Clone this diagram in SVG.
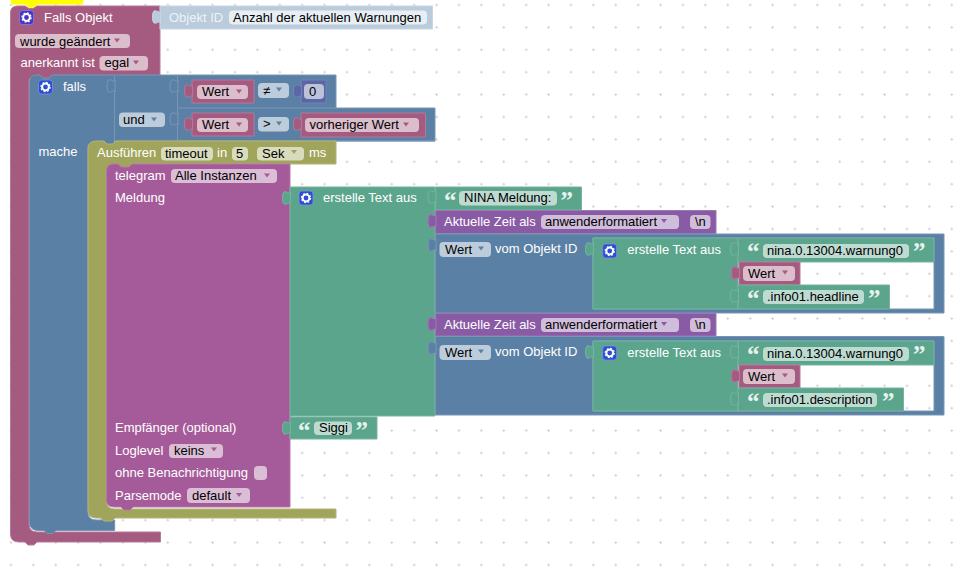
<svg xmlns="http://www.w3.org/2000/svg" width="964" height="584" viewBox="0 0 964 584">
<style>
text{font-family:"Liberation Sans",Arial,sans-serif;font-size:13px;fill:#fff}
text.d{fill:#000}
text.q{font-family:"Liberation Serif",serif;font-size:25px;font-weight:bold;fill:#e6f2ee}
.pk{fill:#a55b80;stroke:#b5779a;stroke-width:1}
.bl{fill:#5b80a5;stroke:#7896b4;stroke-width:1}
.ol{fill:#a0a55b;stroke:#b0b476;stroke-width:1}
.tg{fill:#a55b99;stroke:#b577aa;stroke-width:1}
.gr{fill:#5ba58c;stroke:#76b49f;stroke-width:1}
.pu{fill:#8a5ba5;stroke:#9d77b4;stroke-width:1}
.ix{fill:#5b67a5;stroke:#7682b4;stroke-width:1}
.ob{fill:#bacbdb;stroke:#c8d6e3;stroke-width:1}
.fp{fill:#dbbdcc}.fb{fill:#bdccdb}.fo{fill:#d9dbbd}.ft{fill:#dbbdd6}.fg{fill:#bddbd1}.fu{fill:#d0bddb}.fi{fill:#bdc2db}.fx{fill:#e7eef4}
.ap{fill:#a55b80}.ab{fill:#5b80a5}.ao{fill:#a0a55b}.at{fill:#a55b99}.au{fill:#8a5ba5}
</style>
<defs>
<pattern id="grid" patternUnits="userSpaceOnUse" x="9.500" y="3.500" width="22.4" height="22.4"><path d="M0,1.500H3M1.500,0V3" stroke="#d6d6d6" stroke-width="1" fill="none"/></pattern>
<path id="tab" d="M.500,0C.500,3 -3,-1 -6,0Q-7.500,1 -7.500,6Q-7.500,11 -6,12C-3,13 .500,9 .500,12z"/>
<path id="arr" d="M-3,-2H3L0,2z"/>
<g id="teeth"><circle cx="7" cy="7" r="3.400" fill="none" stroke="#fff" stroke-width="2"/><circle cx="7" cy="7" r="4.600" fill="none" stroke="#fff" stroke-width="1.200" stroke-dasharray="1.800 1.800"/></g>
<g id="gear"><rect width="14" height="14" rx="3" fill="#2a4fd0" stroke="#7d8fe0" stroke-width=".8"/><use href="#teeth"/></g>
<g id="gearh"><rect width="14" height="14" rx="3" fill="#4637c8" stroke="#8a80dc" stroke-width=".8"/><use href="#teeth"/></g>
</defs>
<rect width="964" height="584" fill="#fff"/>
<rect width="964" height="584" fill="url(#grid)"/>
<g id="connectors"></g>

<g id="selection"><path d="M11,0H83V4.500H38l-6,3.500h-2l-5,-3.500H11z" fill="#ffff00"/></g>

<g id="falls-objekt">
<path class="pk" d="M10.500,13q0,-7 7,-7H25l4,2.500h4l4,-2.500H160V79H29V524q0,8 8,8H160.500V542H37l-3,3h-6l-3,-3H19Q10.500,542 10.500,534z"/>
<use href="#gearh" x="19.500" y="10.500"/>
<text x="44" y="22">Falls Objekt</text>
<rect class="fp" x="15" y="34" width="115" height="14" rx="4"/><text class="d" x="20" y="45.500">wurde geändert</text><use href="#arr" class="ap" x="117" y="40.500"/>
<text x="20.500" y="67">anerkannt ist</text>
<rect class="fp" x="99.500" y="56" width="48.500" height="14.500" rx="4"/><text class="d" x="104.500" y="67">egal</text><use href="#arr" class="ap" x="136" y="62.500"/>
</g>

<g id="objekt-id">
<path class="ob" d="M160,6H432.500V29H160z"/><use href="#tab" class="ob" x="160" y="11"/>
<text x="169" y="22" style="fill:#eef3f7">Objekt ID</text>
<rect class="fx" x="229" y="10.500" width="198" height="14" rx="4"/><text class="d" x="233" y="22">Anzahl der aktuellen Warnungen</text>
</g>

<g id="falls">
<path class="bl" d="M29.500,82q0,-7 7,-7H40l3,3h6l3,-3H336V108H435V141H114V145H88V512q0,8 8,8H114.700V530.500H56l-3,3h-6l-3,-3H38Q29.500,530.500 29.500,522z"/>
<path d="M114.500,76V141M177.500,76V141M178,108H336M178,141H435" fill="none" stroke="#7896b4"/>
<use href="#tab" x="114.500" y="80" fill="#5b80a5" stroke="#7896b4"/>
<use href="#tab" x="177.500" y="80" fill="#5b80a5" stroke="#7896b4"/>
<use href="#tab" x="177.500" y="113" fill="#5b80a5" stroke="#7896b4"/>
<use href="#gear" x="38.500" y="80"/>
<text x="63" y="91">falls</text>
<text x="38.500" y="156">mache</text>
<rect class="fb" x="119" y="112.500" width="46" height="14.500" rx="4"/><text class="d" x="123" y="124">und</text><use href="#arr" class="ab" x="154" y="119.500"/>
<path class="pk" d="M192,80H254V103H192z"/><use href="#tab" class="pk" x="192" y="85"/>
<rect class="fp" x="197" y="85" width="51" height="14" rx="4"/><text class="d" x="202" y="96">Wert</text><use href="#arr" class="ap" x="239" y="91.500"/>
<rect class="fb" x="258" y="83" width="31" height="15" rx="4"/><text class="d" x="263" y="95">≠</text><use href="#arr" class="ab" x="279" y="89.500"/>
<path class="ix" d="M301,80H326V103H301z"/><use href="#tab" class="ix" x="301" y="85"/>
<rect class="fi" x="304" y="84" width="20" height="15" rx="4"/><text class="d" x="309" y="96">0</text>
<path class="pk" d="M192,113H254V136H192z"/><use href="#tab" class="pk" x="192" y="118"/>
<rect class="fp" x="197" y="118" width="51" height="14" rx="4"/><text class="d" x="202" y="129">Wert</text><use href="#arr" class="ap" x="239" y="124.500"/>
<rect class="fb" x="258" y="117" width="31" height="14.500" rx="4"/><text class="d" x="263" y="128">&gt;</text><use href="#arr" class="ab" x="279" y="123.500"/>
<path class="pk" d="M301,113H425.500V137H301z"/><use href="#tab" class="pk" x="301" y="118"/>
<rect class="fp" x="305" y="118" width="114" height="14" rx="4"/><text class="d" x="309.500" y="129">vorheriger Wert</text><use href="#arr" class="ap" x="406" y="124.500"/>
</g>

<g id="ausfuehren">
<path class="ol" d="M88,149q0,-8 8,-8H104l3,3h6l3,-3H336V164H132V168H106.500V501q0,8 8,8H336V518H115l-3,3h-8l-3,-3H96Q88,518 88,510z"/>
<text x="97" y="157">Ausführen</text>
<rect class="fo" x="161" y="147" width="52" height="13.500" rx="4"/><text class="d" x="165" y="157.500">timeout</text>
<text x="217" y="157">in</text>
<rect class="fo" x="232" y="147" width="16" height="13.500" rx="4"/><text class="d" x="236" y="157.500">5</text>
<rect class="fo" x="257" y="147" width="47" height="13.500" rx="4"/><text class="d" x="262" y="157.500">Sek</text><use href="#arr" class="ao" x="294" y="152"/>
<text x="309" y="157">ms</text>
</g>

<g id="telegram">
<path class="tg" d="M106.500,171q0,-7 7,-7H118l3,3h8l3,-3H290V507H133l-3,3h-6l-3,-3H114Q106.500,507 106.500,500z"/>
<text x="115" y="180">telegram</text>
<rect class="ft" x="171" y="169" width="106" height="14" rx="4"/><text class="d" x="175" y="180">Alle Instanzen</text><use href="#arr" class="at" x="267" y="175.500"/>
<text x="115" y="202">Meldung</text>
<text x="115" y="432">Empfänger (optional)</text>
<text x="115" y="455">Loglevel</text>
<rect class="ft" x="169" y="444" width="54" height="14" rx="4"/><text class="d" x="174" y="455">keins</text><use href="#arr" class="at" x="214" y="449.500"/>
<text x="115" y="477">ohne Benachrichtigung</text>
<rect class="ft" x="254" y="466" width="13" height="14" rx="4"/>
<text x="115" y="500">Parsemode</text>
<rect class="ft" x="187" y="488" width="63" height="15" rx="4"/><text class="d" x="192" y="500">default</text><use href="#arr" class="at" x="239" y="495"/>
</g>

<g id="text-main">
<path class="gr" d="M290,187H435V416H290z"/><use href="#tab" class="gr" x="290" y="192"/>
<use href="#gear" x="299" y="191"/>
<text x="323" y="202">erstelle Text aus</text>
</g>

<g id="text-nina">
<path class="gr" d="M435.500,187H581.500V210H435.500z"/><use href="#tab" class="gr" x="435.500" y="191"/>
<text class="q" x="444" y="209">“</text><text class="q" x="560.500" y="209">”</text>
<rect class="fg" x="459" y="191" width="98" height="14.500" rx="4"/><text class="d" x="464" y="202">NINA Meldung:</text>
</g>

<g id="zeit-1">
<path class="pu" d="M435.500,210.500H716V233.500H435.500z"/><use href="#tab" class="pu" x="435.500" y="215"/>
<text x="444" y="226">Aktuelle Zeit als</text>
<rect class="fu" x="541" y="215" width="138" height="14" rx="4"/><text class="d" x="545" y="226">anwenderformatiert</text><use href="#arr" class="au" x="664" y="221"/>
<rect class="fu" x="690" y="215" width="20.500" height="14" rx="4"/><text class="d" x="695" y="226">\n</text>
</g>

<g id="wert-1">
<path class="bl" fill-rule="evenodd" d="M435.500,234H944V313H435.500zM593,238V309H934V238z"/><use href="#tab" class="bl" x="435.500" y="239"/>
<rect class="fb" x="439.500" y="242" width="51.500" height="15" rx="4"/><text class="d" x="445" y="254">Wert</text><use href="#arr" class="ab" x="481" y="248.500"/>
<text x="495" y="253">vom Objekt ID</text>
<path class="gr" d="M593,238H738V309H593z"/><use href="#tab" class="gr" x="593" y="243"/>
<use href="#gear" x="602.700" y="244"/>
<text x="627.300" y="254">erstelle Text aus</text>
<path class="gr" d="M738,238H934V262H738z"/><use href="#tab" class="gr" x="738" y="243"/>
<text class="q" x="747" y="260">“</text><text class="q" x="913" y="260">”</text>
<rect class="fg" x="763" y="244" width="146" height="14" rx="4"/><text class="d" x="767" y="254.500">nina.0.13004.warnung0</text>
<path class="pk" d="M739,262H800V285H739z"/><use href="#tab" class="pk" x="739" y="267"/>
<rect class="fp" x="743" y="266" width="52" height="15" rx="4"/><text class="d" x="748" y="278">Wert</text><use href="#arr" class="ap" x="785" y="272.500"/>
<path class="gr" d="M738,285H889.500V309H738z"/><use href="#tab" class="gr" x="738" y="290"/>
<text class="q" x="747" y="307">“</text><text class="q" x="868" y="307">”</text>
<rect class="fg" x="763" y="290" width="101" height="14" rx="4"/><text class="d" x="767" y="301">.info01.headline</text>
</g>

<g id="zeit-2">
<path class="pu" d="M435.500,313.500H716V336H435.500z"/><use href="#tab" class="pu" x="435.500" y="318"/>
<text x="444" y="329">Aktuelle Zeit als</text>
<rect class="fu" x="541" y="318" width="138" height="14" rx="4"/><text class="d" x="545" y="329">anwenderformatiert</text><use href="#arr" class="au" x="664" y="324"/>
<rect class="fu" x="690" y="318" width="20.500" height="14" rx="4"/><text class="d" x="695" y="329">\n</text>
</g>

<g id="wert-2">
<path class="bl" fill-rule="evenodd" d="M435.500,336.500H944V415H435.500zM593,341V411H934V341z"/><use href="#tab" class="bl" x="435.500" y="342"/>
<rect class="fb" x="439.500" y="345" width="51.500" height="15" rx="4"/><text class="d" x="445" y="357">Wert</text><use href="#arr" class="ab" x="481" y="351.500"/>
<text x="495" y="356">vom Objekt ID</text>
<path class="gr" d="M593,341H738V411H593z"/><use href="#tab" class="gr" x="593" y="346"/>
<use href="#gear" x="602.700" y="346"/>
<text x="627.300" y="357">erstelle Text aus</text>
<path class="gr" d="M738,341H934V365H738z"/><use href="#tab" class="gr" x="738" y="346"/>
<text class="q" x="747" y="363">“</text><text class="q" x="913" y="363">”</text>
<rect class="fg" x="763" y="347" width="146" height="14" rx="4"/><text class="d" x="767" y="357.500">nina.0.13004.warnung0</text>
<path class="pk" d="M739,365H800V388H739z"/><use href="#tab" class="pk" x="739" y="370"/>
<rect class="fp" x="743" y="369" width="52" height="15" rx="4"/><text class="d" x="748" y="381">Wert</text><use href="#arr" class="ap" x="785" y="375.500"/>
<path class="gr" d="M738,388H903.500V411H738z"/><use href="#tab" class="gr" x="738" y="393"/>
<text class="q" x="747" y="410">“</text><text class="q" x="882" y="410">”</text>
<rect class="fg" x="763" y="393" width="114" height="14" rx="4"/><text class="d" x="767" y="404">.info01.description</text>
</g>

<g id="siggi">
<path class="gr" d="M290,417H377V439H290z"/><use href="#tab" class="gr" x="290" y="422"/>
<text class="q" x="298" y="439">“</text><text class="q" x="355.500" y="439">”</text>
<rect class="fg" x="314" y="421.500" width="38" height="13.500" rx="4"/><text class="d" x="319" y="432">Siggi</text>
</g>
</svg>
